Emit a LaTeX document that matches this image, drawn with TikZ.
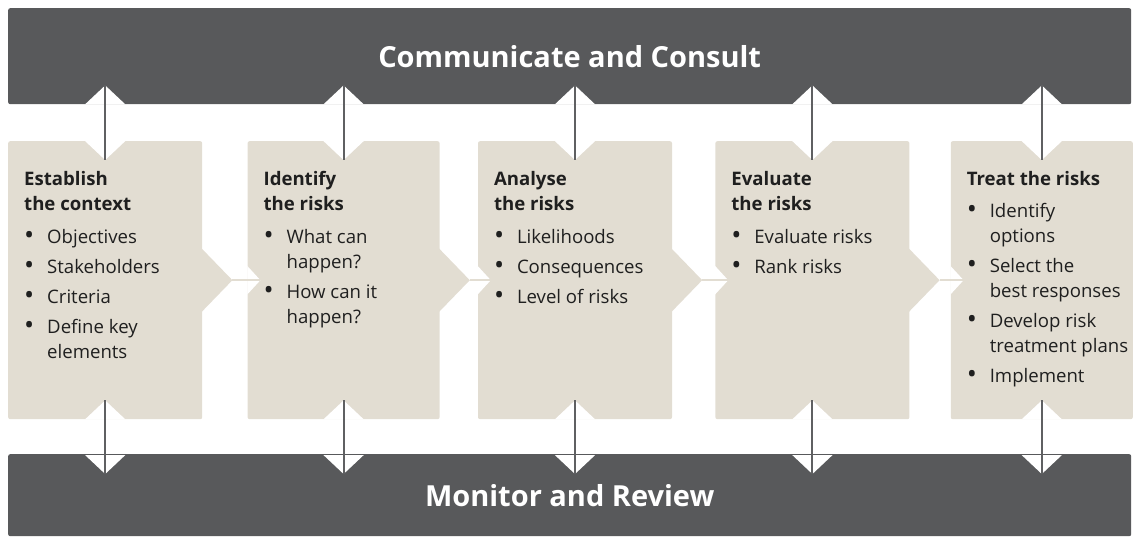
\documentclass[tikz,border=0pt]{standalone}
\usepackage{fontspec}
\setmainfont{Open Sans}
\usepackage{tikz}
\usetikzlibrary{arrows.meta,positioning,calc}
\definecolor{slate}{RGB}{88,89,91}
\definecolor{sand}{RGB}{226,221,210}
\definecolor{stemgray}{RGB}{95,96,98}
\newcommand{\bl}{\makebox[23pt][l]{\raisebox{-1.5pt}{\fontsize{27}{25}\selectfont\textbullet}}}
\newcommand{\ind}{\hspace*{23pt}}

\begin{document}
\begin{tikzpicture}[x=1pt,y=-1pt,
  bar/.style={rectangle,rounded corners=2pt,fill=slate,text=white,inner sep=0pt,minimum width=1123pt,anchor=north west,font=\fontsize{29}{34}\selectfont\bfseries},
  stage/.style={rectangle,rounded corners=2pt,fill=sand,inner sep=0pt,minimum height=278pt},
  txt/.style={anchor=north west,inner sep=0pt,align=left,text=black!88,font=\fontsize{18.6}{25}\selectfont},
  notch/.style={-{Triangle[length=13pt,width=28pt,color=white]}},
  twoway/.style={{Triangle[length=19pt,width=40pt,color=white]}-{Triangle[length=19pt,width=40pt,color=white]}},
  stem/.style={stemgray,line width=2pt},
  link/.style={sand,line width=1.5pt}
]
\useasboundingbox (0,0) rectangle (1136,544);
% the two bars
\node[bar,minimum height=96pt] (cc) at (8,8) {Communicate and Consult};
\node[bar,minimum height=82pt] (mr) at (8,454) {Monitor and Review};
% process stages
\node[stage,minimum width=194pt,anchor=north west] (b1) at (8,141) {};
\node[stage,minimum width=192pt,right=45pt of b1] (b2) {};
\node[stage,minimum width=194pt,right=38pt of b2] (b3) {};
\node[stage,minimum width=194pt,right=43pt of b3] (b4) {};
\node[stage,minimum width=182pt,right=41pt of b4] (b5) {};
% chevrons and joins between stages
\foreach \i/\j in {1/2,2/3,3/4,4/5} {
  \fill[sand] ($(b\i.east)+(-1pt,32pt)$) -- ($(b\i.east)+(30pt,0pt)$) coordinate (tip\i)
    -- ($(b\i.east)+(-1pt,-32pt)$) -- cycle;
  \coordinate (in\j) at ($(b\j.west)+(13pt,0pt)$);
  \draw[link,notch] (tip\i) -- (in\j);
  \draw[link] (tip\i) -- (in\j);
}
% two-way links to the bars
\foreach \i in {1,...,5} {
  \coordinate (up\i) at ($(b\i.north |- cc.south)+(0pt,19pt)$);
  \coordinate (top\i) at ($(b\i.north)+(0pt,-19pt)$);
  \coordinate (bot\i) at ($(b\i.south)+(0pt,19pt)$);
  \coordinate (dn\i) at ($(b\i.south |- mr.north)+(0pt,-20pt)$);
  \draw[stem,twoway] (up\i) -- (top\i);
  \draw[stem] (up\i) -- (top\i);
  \draw[stem,twoway] (bot\i) -- (dn\i);
  \draw[stem] (bot\i) -- (dn\i);
}
% stage texts
\node[txt,below right=30pt and 16pt of b1.north west] (t1) {\textbf{Establish}\\\textbf{the context}\\[8pt]
  \bl Objectives\\[5pt] \bl Stakeholders\\[5pt] \bl Criteria\\[5pt] \bl Define key\\ \ind elements};
\node[txt,below right=30pt and 16pt of b2.north west] (t2) {\textbf{Identify}\\\textbf{the risks}\\[8pt]
  \bl What can\\ \ind happen?\\[5pt] \bl How can it\\ \ind happen?};
\node[txt,below right=30pt and 16pt of b3.north west] (t3) {\textbf{Analyse}\\\textbf{the risks}\\[8pt]
  \bl Likelihoods\\[5pt] \bl Consequences\\[5pt] \bl Level of risks};
\node[txt,below right=30pt and 16pt of b4.north west] (t4) {\textbf{Evaluate}\\\textbf{the risks}\\[8pt]
  \bl Evaluate risks\\[5pt] \bl Rank risks};
\node[txt,below right=30pt and 16pt of b5.north west] (t5) {\textbf{Treat the risks}\\[7pt]
  \bl Identify\\ \ind options\\[5pt] \bl Select the\\ \ind best responses\\[5pt]
  \bl Develop risk\\ \ind treatment plans\\[5pt] \bl Implement};
\end{tikzpicture}
\end{document}
